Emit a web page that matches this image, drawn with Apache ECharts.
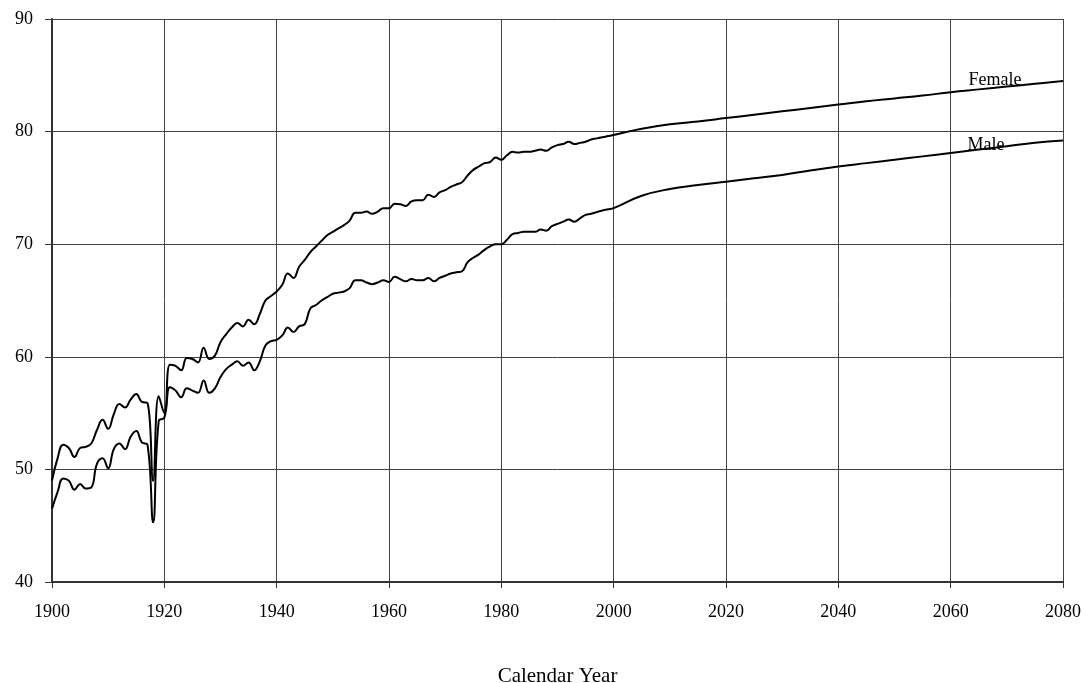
<!DOCTYPE html>
<html>
<head>
<meta charset="utf-8">
<script src="https://cdn.jsdelivr.net/npm/echarts@6/dist/echarts.min.js"></script>
<style>
html,body{margin:0;padding:0;background:#fff;}
#chart{width:1086px;height:683px;}
</style>
</head>
<body>
<div id="chart"></div>
<script>
// Years (historical yearly, projections every 5 years)
const femaleYears = [1900,1901,1902,1903,1904,1905,1906,1907,1908,1909,1910,1911,1912,1913,1914,1915,1916,1917,1918,1919,
  1920,1921,1922,1923,1924,1925,1926,1927,1928,1929,1930,1931,1932,1933,1934,1935,1936,1937,1938,1939,
  1940,1941,1942,1943,1944,1945,1946,1947,1948,1949,1950,1951,1952,1953,1954,1955,1956,1957,1958,1959,
  1960,1961,1962,1963,1964,1965,1966,1967,1968,1969,1970,1971,1972,1973,1974,1975,1976,1977,1978,1979,
  1980,1981,1982,1983,1984,1985,1986,1987,1988,1989,1990,1991,1992,1993,1994,1995,1996,1997,1998,1999,
  2000,2005,2010,2015,2020,2025,2030,2035,2040,2045,2050,2055,2060,2065,2070,2075,2080];
const femaleValues = [49.0,51.0,52.2,51.9,51.1,51.9,52.0,52.3,53.5,54.4,53.6,54.9,55.8,55.5,56.2,56.7,56.0,55.9,49.0,56.5,
  55.0,59.3,59.2,58.8,59.9,59.8,59.5,60.8,59.8,60.1,61.3,62.0,62.6,63.0,62.7,63.3,62.9,63.8,65.0,65.4,
  65.8,66.4,67.4,67.0,68.0,68.6,69.3,69.8,70.3,70.8,71.1,71.4,71.7,72.1,72.8,72.8,72.9,72.7,72.9,73.2,
  73.2,73.6,73.55,73.4,73.8,73.9,73.9,74.4,74.2,74.6,74.8,75.1,75.3,75.5,76.1,76.6,76.9,77.2,77.3,77.7,
  77.5,77.9,78.2,78.15,78.2,78.2,78.3,78.4,78.3,78.6,78.8,78.9,79.1,78.9,79.0,79.1,79.3,79.4,79.5,79.6,
  79.7,80.25,80.65,80.9,81.2,81.5,81.8,82.1,82.4,82.7,82.95,83.2,83.5,83.75,84.0,84.25,84.5];

const maleYears = femaleYears;
const maleValues = [46.5,48.0,49.2,49.0,48.2,48.7,48.3,48.4,50.5,51.0,50.1,51.8,52.3,51.8,52.9,53.4,52.4,52.2,45.3,54.3,
  54.6,57.3,57.0,56.4,57.2,57.0,56.8,57.9,56.8,57.2,58.2,58.9,59.3,59.6,59.2,59.5,58.8,59.6,61.0,61.4,
  61.5,61.9,62.6,62.2,62.7,62.9,64.3,64.6,65.0,65.3,65.6,65.7,65.8,66.1,66.8,66.8,66.6,66.45,66.6,66.8,
  66.65,67.1,66.9,66.7,66.9,66.8,66.8,67.0,66.7,67.0,67.2,67.4,67.5,67.6,68.4,68.8,69.1,69.5,69.8,70.0,
  70.0,70.4,70.9,71.0,71.1,71.1,71.1,71.3,71.2,71.6,71.8,72.0,72.2,72.0,72.3,72.6,72.7,72.85,73.0,73.1,
  73.2,74.3,74.9,75.25,75.55,75.85,76.15,76.55,76.9,77.2,77.5,77.8,78.1,78.4,78.7,79.0,79.2];

const xAxisTitle = 'Calendar Year';
const seriesNames = ['Female', 'Male'];
const labelAnchors = [[2067.9, 84.6], [2066.3, 78.75]];

const pairs = (xs, ys) => xs.map((x, i) => [x, ys[i]]);
const serif = '"Liberation Serif", "DejaVu Serif", serif';

const chart = echarts.init(document.getElementById('chart'), null, {renderer: 'canvas'});
chart.setOption({
  animation: false,
  backgroundColor: '#fff',
  grid: {left: 52, right: 23, top: 19, bottom: 101, containLabel: false, outerBoundsMode: 'none'},
  xAxis: {
    type: 'value', min: 1900, max: 2080, interval: 20,
    name: xAxisTitle, nameLocation: 'middle', nameGap: 84,
    nameTextStyle: {fontFamily: serif, fontSize: 21, color: '#000'},
    axisLine: {show: true, lineStyle: {color: '#333', width: 2}},
    axisTick: {show: true, length: 6, lineStyle: {color: '#333', width: 1}},
    axisLabel: {fontFamily: serif, fontSize: 18, color: '#000', margin: 21, formatter: v => String(v)},
    splitLine: {show: true, lineStyle: {color: '#444', width: 1}}
  },
  yAxis: {
    type: 'value', min: 40, max: 90, interval: 10,
    axisLine: {show: true, lineStyle: {color: '#333', width: 2}},
    axisTick: {show: true, length: 7, lineStyle: {color: '#333', width: 1}},
    axisLabel: {fontFamily: serif, fontSize: 18, color: '#000', margin: 19},
    splitLine: {show: true, lineStyle: {color: '#444', width: 1}}
  },
  series: [
    {
      name: seriesNames[0], type: 'line', smooth: 0.45, symbol: 'none',
      data: pairs(femaleYears, femaleValues),
      lineStyle: {color: '#000', width: 2},
      markPoint: {
        symbol: 'circle', symbolSize: 0,
        label: {show: true, formatter: seriesNames[0], fontFamily: serif, fontSize: 18, color: '#000', position: 'inside'},
        data: [{coord: labelAnchors[0]}]
      }
    },
    {
      name: seriesNames[1], type: 'line', smooth: 0.45, symbol: 'none',
      data: pairs(maleYears, maleValues),
      lineStyle: {color: '#000', width: 2},
      markPoint: {
        symbol: 'circle', symbolSize: 0,
        label: {show: true, formatter: seriesNames[1], fontFamily: serif, fontSize: 18, color: '#000', position: 'inside'},
        data: [{coord: labelAnchors[1]}]
      }
    }
  ]
});
</script>
</body>
</html>
